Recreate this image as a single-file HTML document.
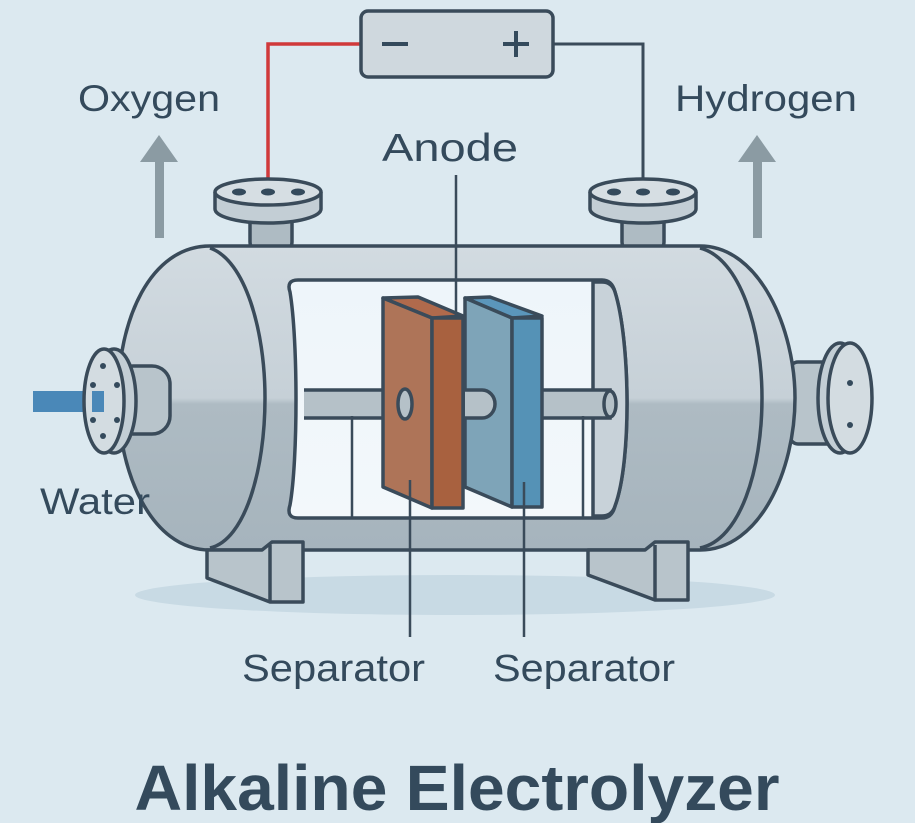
<!DOCTYPE html>
<html><head><meta charset="utf-8"><style>
html,body{margin:0;padding:0;background:#dce9f0;}
svg{display:block}
text{font-family:"Liberation Sans","DejaVu Sans",sans-serif;fill:#344a5c}
</style></head><body>
<svg width="915" height="823" viewBox="0 0 915 823" xmlns="http://www.w3.org/2000/svg">
<defs>
<linearGradient id="tank" x1="0" y1="0" x2="0" y2="1">
<stop offset="0" stop-color="#d2dbe1"/><stop offset="0.5" stop-color="#c6d0d7"/>
<stop offset="0.52" stop-color="#aebbc3"/><stop offset="1" stop-color="#a6b4bd"/>
</linearGradient>
<linearGradient id="win" x1="0" y1="0" x2="0" y2="1"><stop offset="0" stop-color="#eef5fa"/><stop offset="1" stop-color="#f3f8fb"/></linearGradient>
</defs>
<rect width="915" height="823" fill="#dce9f0"/>
<ellipse cx="455" cy="595" rx="320" ry="20" fill="#c8dae4"/>

<polyline points="361,44 268,44 268,192" fill="none" stroke="#d0393a" stroke-width="3.5"/>
<polyline points="553,44 643,44 643,192" fill="none" stroke="#3a4b5a" stroke-width="3"/>
<rect x="361" y="11" width="192" height="66" rx="7" fill="#cfd8de" stroke="#3a4b5a" stroke-width="3.5"/>
<rect x="382" y="42" width="26" height="4" fill="#344a5c"/>
<rect x="503" y="42" width="26" height="4" fill="#344a5c"/>
<rect x="514" y="31" width="4" height="26" fill="#344a5c"/>

<rect x="155" y="160" width="9" height="78" fill="#8b9ba3"/>
<polygon points="159,135 140,162 178,162" fill="#8b9ba3"/>
<rect x="753" y="160" width="9" height="78" fill="#8b9ba3"/>
<polygon points="757,135 738,162 776,162" fill="#8b9ba3"/>

<g stroke="#3a4b5a" stroke-width="3.5">
<rect x="250" y="210" width="42" height="42" rx="10" fill="#aebbc3"/>
<rect x="622" y="210" width="42" height="42" rx="10" fill="#aebbc3"/>
<path d="M215,192 v17 a53,14 0 0 0 106,0 v-17" fill="#c3ced5"/>
<ellipse cx="268" cy="192" rx="53" ry="13" fill="#d6dee3"/>
<path d="M590,192 v17 a53,14 0 0 0 106,0 v-17" fill="#c3ced5"/>
<ellipse cx="643" cy="192" rx="53" ry="13" fill="#d6dee3"/>
</g>
<g fill="#344a5c"><ellipse cx="239" cy="192" rx="7" ry="3.5"/><ellipse cx="268" cy="192" rx="7" ry="3.5"/><ellipse cx="298" cy="192" rx="7" ry="3.5"/>
<ellipse cx="614" cy="192" rx="7" ry="3.5"/><ellipse cx="643" cy="192" rx="7" ry="3.5"/><ellipse cx="673" cy="192" rx="7" ry="3.5"/></g>

<g stroke="#3a4b5a" stroke-width="3.5">
<rect x="790" y="362" width="55" height="82" rx="8" fill="#b8c4cb"/>
<ellipse cx="840" cy="398" rx="22" ry="55" fill="#c3ced5"/>
<ellipse cx="850" cy="398" rx="22" ry="55" fill="#d3dce1"/>
</g>
<circle cx="850" cy="383" r="3" fill="#344a5c"/><circle cx="850" cy="425" r="3" fill="#344a5c"/>

<path d="M210,246 L700,246 C760,246 795,330 795,398 C795,470 760,550 700,550 L210,550 C150,550 118,470 118,398 C118,320 150,246 210,246 Z" fill="url(#tank)" stroke="#3a4b5a" stroke-width="3.5"/>
<path d="M210,248 C245,260 265,330 265,398 C265,470 245,540 210,548" fill="none" stroke="#3a4b5a" stroke-width="3.5"/>
<path d="M700,248 C740,258 762,330 762,398 C762,470 740,540 700,548" fill="none" stroke="#3a4b5a" stroke-width="3.5"/>

<rect x="33" y="391" width="75" height="21" fill="#4a88b8"/>
<g stroke="#3a4b5a" stroke-width="3.5">
<rect x="115" y="366" width="55" height="68" rx="18" fill="#b8c4cb"/>
<ellipse cx="114" cy="401" rx="22" ry="52" fill="#c3ced5"/>
<ellipse cx="104" cy="401" rx="20" ry="52" fill="#d3dce1"/>
</g>
<rect x="92" y="391" width="12" height="21" fill="#4a88b8"/>
<g fill="#344a5c"><circle cx="103" cy="366" r="3"/><circle cx="103" cy="436" r="3"/><circle cx="93" cy="385" r="3"/><circle cx="93" cy="420" r="3"/><circle cx="117" cy="385" r="3"/><circle cx="117" cy="420" r="3"/></g>

<path d="M298,280 L602,280 Q612,280 615,292 C630,340 632,460 615,506 Q612,518 602,518 L298,518 Q286,518 290,505 C298,460 298,340 290,292 Q286,280 298,280 Z" fill="url(#win)" stroke="#3a4b5a" stroke-width="3.5"/>
<path d="M593,282 L593,516 L602,516 Q612,516 615,506 C632,460 630,340 615,292 Q612,282 602,282 Z" fill="#c8d2d9" stroke="#3a4b5a" stroke-width="3.5"/>

<g stroke="#3a4b5a" stroke-width="3.5">
<path d="M304,390 H405 V418 H304" fill="#b5c1c8"/>
<path d="M540,390 H610 V418 H540" fill="#b5c1c8"/>
<ellipse cx="610" cy="404" rx="6" ry="13" fill="#b5c1c8"/>
</g>
<g stroke="#3a4b5a" stroke-width="2.5">
<line x1="352" y1="416" x2="352" y2="518"/><line x1="583" y1="416" x2="583" y2="518"/>
</g>

<g stroke="#3a4b5a" stroke-width="3.5" stroke-linejoin="round">
<polygon points="383,298 418,297 463,316 432,318" fill="#b06a4c"/>
<polygon points="383,298 432,318 432,508 383,487" fill="#ae7458"/>
<rect x="432" y="318" width="31" height="190" fill="#a8613f"/>
<polygon points="465,298 490,297 542,316 512,318" fill="#5b96bb"/>
<polygon points="465,298 512,318 512,507 465,487" fill="#7ea4b8"/>
<rect x="512" y="318" width="30" height="189" fill="#5592b6"/>
<ellipse cx="405" cy="404" rx="7" ry="15" fill="#b5c1c8"/>
<path d="M465,390 H482 A13,14 0 0 1 482,418 H465" fill="#b5c1c8"/>
</g>
<g stroke="#3a4b5a" stroke-width="2.5">
<line x1="456" y1="175" x2="456" y2="316"/>
<line x1="410" y1="480" x2="410" y2="637"/>
<line x1="524" y1="482" x2="524" y2="637"/>
</g>

<g stroke="#3a4b5a" stroke-width="3.5" stroke-linejoin="round">
<polygon points="207,550 262,550 272,542 303,542 303,602 270,602 207,578" fill="#b8c4cb"/>
<line x1="270" y1="545" x2="270" y2="602"/>
<polygon points="588,550 645,550 655,542 688,542 688,600 655,600 588,575" fill="#b8c4cb"/>
<line x1="655" y1="545" x2="655" y2="600"/>
</g>

<text x="78" y="111" font-size="37" textLength="142" lengthAdjust="spacingAndGlyphs">Oxygen</text>
<text x="675" y="111" font-size="37" textLength="182" lengthAdjust="spacingAndGlyphs">Hydrogen</text>
<text x="382" y="161" font-size="39" textLength="136" lengthAdjust="spacingAndGlyphs">Anode</text>
<text x="40" y="514" font-size="37" textLength="110" lengthAdjust="spacingAndGlyphs">Water</text>
<text x="242" y="681" font-size="38" textLength="183" lengthAdjust="spacingAndGlyphs">Separator</text>
<text x="493" y="681" font-size="38" textLength="182" lengthAdjust="spacingAndGlyphs">Separator</text>
<text x="457" y="810" font-size="64" font-weight="bold" text-anchor="middle" textLength="645" lengthAdjust="spacingAndGlyphs">Alkaline Electrolyzer</text>
</svg>
</body></html>
